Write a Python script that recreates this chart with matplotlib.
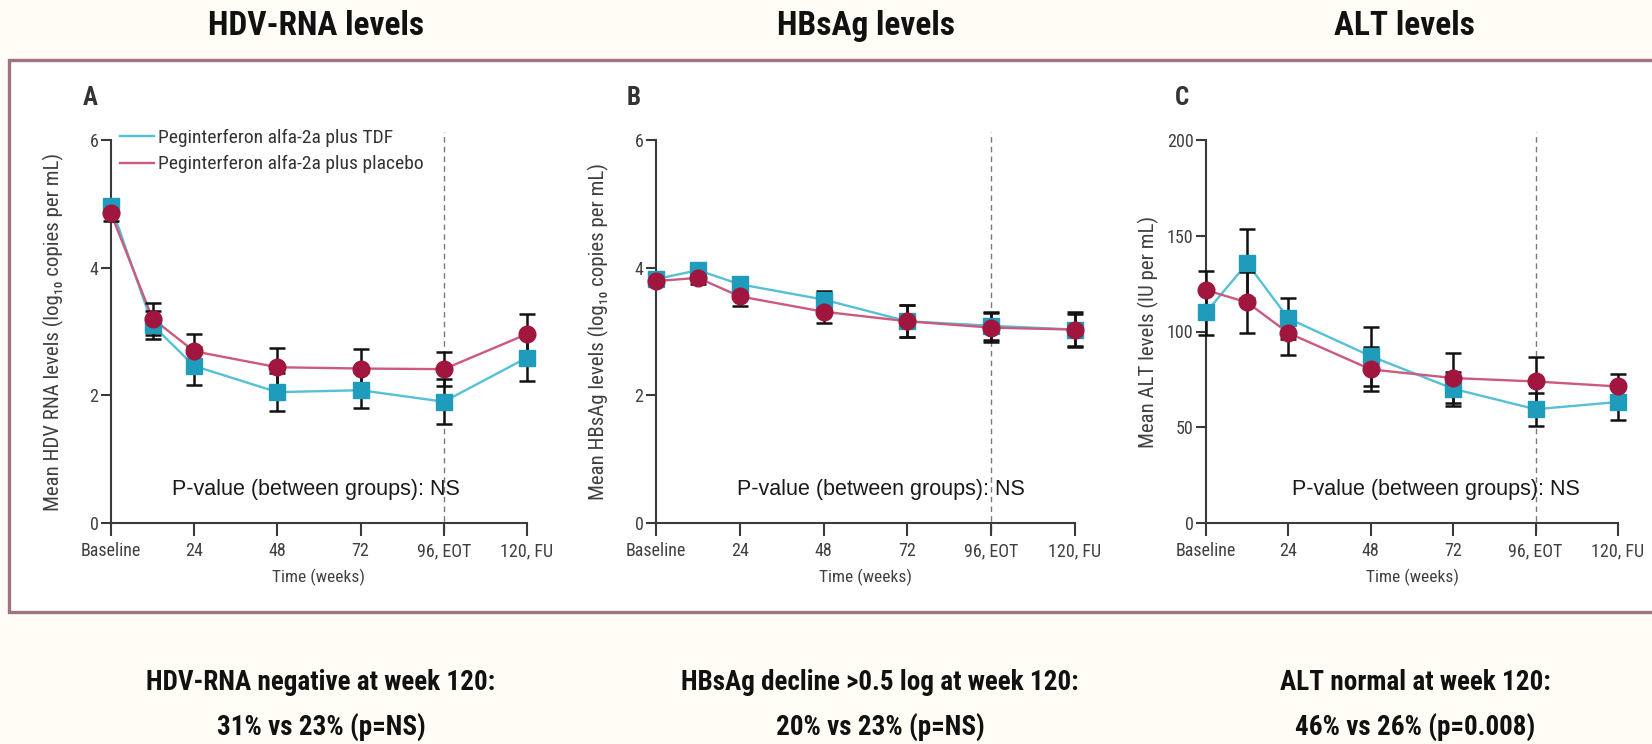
import matplotlib
matplotlib.use("Agg")
import matplotlib.pyplot as plt
from matplotlib import font_manager
from matplotlib.lines import Line2D
from matplotlib.patches import Rectangle

W, H, DPI = 1652, 744, 100

# ---- data -----------------------------------------------------------
weeks = [0, 12, 24, 48, 72, 96, 120]
tick_weeks = [0, 24, 48, 72, 96, 120]
tick_labels = ["Baseline", "24", "48", "72", "96, EOT", "120, FU"]
series_names = ["Peginterferon alfa-2a plus TDF", "Peginterferon alfa-2a plus placebo"]

hdv_tdf = [4.97, 3.10, 2.46, 2.05, 2.08, 1.90, 2.59]
hdv_tdf_err = [0.10, 0.22, 0.30, 0.30, 0.28, 0.35, 0.36]
hdv_pla = [4.85, 3.20, 2.69, 2.44, 2.42, 2.41, 2.96]
hdv_pla_err = [0.12, 0.25, 0.27, 0.30, 0.30, 0.27, 0.31]

hbs_tdf = [3.82, 3.96, 3.74, 3.50, 3.16, 3.09, 3.03]
hbs_tdf_err = [0.05, 0.08, 0.08, 0.14, 0.25, 0.22, 0.25]
hbs_pla = [3.79, 3.84, 3.55, 3.31, 3.16, 3.06, 3.03]
hbs_pla_err = [0.05, 0.10, 0.15, 0.18, 0.25, 0.23, 0.27]

alt_tdf = [110, 135.6, 106.8, 87.1, 70.1, 59.4, 63.2]
alt_tdf_err = [12, 18, 10.5, 15.4, 9, 8.7, 9.5]
alt_pla = [121.6, 115.2, 99.2, 80.2, 75.7, 73.9, 71.3]
alt_pla_err = [10, 16, 11.4, 11.5, 13, 12.7, 6.6]

panel_titles = ["HDV-RNA levels", "HBsAg levels", "ALT levels"]
panel_letters = ["A", "B", "C"]
y_labels = ["Mean HDV RNA levels (log\u2081\u2080 copies per mL)",
            "Mean HBsAg levels (log\u2081\u2080 copies per mL)",
            "Mean ALT levels (IU per mL)"]
y_ticks = [[0, 2, 4, 6], [0, 2, 4, 6], [0, 50, 100, 150, 200]]
y_limits = [(0, 6), (0, 6), (0, 200)]
pvalue_text = "P-value (between groups): NS"
summary_head = ["HDV-RNA negative at week 120:",
                "HBsAg decline >0.5 log at week 120:",
                "ALT normal at week 120:"]
summary_vals = ["31% vs 23% (p=NS)", "20% vs 23% (p=NS)", "46% vs 26% (p=0.008)"]

# ---- styling --------------------------------------------------------
avail = {f.name for f in font_manager.fontManager.ttflist}


def pick(*names):
    for n in names:
        if n in avail:
            return n
    return "DejaVu Sans"


NARROW = pick("Liberation Sans Narrow", "Roboto Condensed", "Open Sans Condensed", "Liberation Sans")
ARIAL = pick("Liberation Sans", "Arimo", "DejaVu Sans")
FAM_N = [NARROW, "DejaVu Sans"]
FAM_A = [ARIAL, "DejaVu Sans"]

C_TDF_LINE = "#55c0d6"
C_TDF_MARK = "#1f9cbc"
C_PLA_LINE = "#cc5a7e"
C_PLA_MARK = "#a0163f"
AXIS_C = "#3a3a3a"
TEXT_C = "#404040"
TICK_FS = 13
LABEL_FS = 15

fig = plt.figure(figsize=(W / DPI, H / DPI), dpi=DPI, facecolor="#fffdf6")


def px(x, y):
    return x / W, 1 - y / H


# outer frame around the three panels
x0, y0 = px(9, 612)
x1, y1 = px(1660, 60)
fig.patches.append(Rectangle((x0, y0), x1 - x0, y1 - y0, transform=fig.transFigure,
                             facecolor="white", edgecolor="#a07383", lw=2.4, zorder=-5))

# axes placement in pixels: (left, right) of x range; y range 523 (bottom) .. 140 (top)
ax_px = [(111, 527), (656, 1075), (1206, 1618)]
AX_TOP, AX_BOT = 140, 523
title_x = [316, 866, 1404]
ylabel_x = [53, 598, 1148]
letter_x = [90, 634, 1182]
pval_x = [316, 881, 1436]
summary_x = [321, 880, 1415]

datasets = [
    (hdv_tdf, hdv_tdf_err, hdv_pla, hdv_pla_err),
    (hbs_tdf, hbs_tdf_err, hbs_pla, hbs_pla_err),
    (alt_tdf, alt_tdf_err, alt_pla, alt_pla_err),
]

for i, (l, r) in enumerate(ax_px):
    left, bottom = px(l, AX_BOT)
    ax = fig.add_axes([left, bottom, (r - l) / W, (AX_BOT - AX_TOP) / H])
    ax.set_zorder(2)
    ax.set_facecolor("none")
    ax.set_xlim(0, 120)
    ax.set_ylim(*y_limits[i])
    for s in ("top", "right"):
        ax.spines[s].set_visible(False)
    for s in ("left", "bottom"):
        ax.spines[s].set_color(AXIS_C)
        ax.spines[s].set_linewidth(1.5)
    ax.set_xticks(tick_weeks)
    ax.set_xticklabels(tick_labels)
    ax.set_yticks(y_ticks[i])
    ax.tick_params(axis="x", length=9, width=1.5, color=AXIS_C, pad=5,
                   labelsize=TICK_FS, labelcolor=TEXT_C)
    ax.tick_params(axis="y", length=7, width=1.5, color=AXIS_C, pad=2,
                   labelsize=TICK_FS, labelcolor=TEXT_C)
    for lab in ax.get_xticklabels() + ax.get_yticklabels():
        lab.set_family(FAM_N)

    tdf, tdf_e, pla, pla_e = datasets[i]
    # end-of-treatment marker
    ax.axvline(96, ymin=-0.02, ymax=1.02, color="#7a7a7a", lw=1.0,
               ls=(0, (4, 3)), clip_on=False, zorder=1)
    ax.errorbar(weeks, tdf, yerr=tdf_e, fmt="none", ecolor="#111111", elinewidth=1.8,
                capsize=6, capthick=1.8, zorder=3, clip_on=False)
    ax.errorbar(weeks, pla, yerr=pla_e, fmt="none", ecolor="#111111", elinewidth=1.8,
                capsize=6, capthick=1.8, zorder=3, clip_on=False)
    ax.plot(weeks, tdf, color=C_TDF_LINE, lw=1.7, zorder=2, clip_on=False)
    ax.plot(weeks, pla, color=C_PLA_LINE, lw=1.7, zorder=2, clip_on=False)
    ax.plot(weeks, tdf, ls="none", marker="s", ms=11, mfc=C_TDF_MARK, mec=C_TDF_MARK,
            zorder=4, clip_on=False)
    ax.plot(weeks, pla, ls="none", marker="o", ms=12, mfc=C_PLA_MARK, mec=C_PLA_MARK,
            zorder=4, clip_on=False)

    ax.text((pval_x[i] - l) / (r - l), (AX_BOT - 490) / (AX_BOT - AX_TOP), pvalue_text,
            transform=ax.transAxes, ha="center", va="center", fontsize=15.5,
            family=FAM_A, color="#1a1a1a")

    ax.set_xlabel("Time (weeks)", family=FAM_N, fontsize=12.5, color=TEXT_C, labelpad=6)

    if i == 0:
        handles = [Line2D([], [], color=C_TDF_LINE, lw=1.7),
                   Line2D([], [], color=C_PLA_LINE, lw=1.7)]
        lx, ly = px(120, 129)
        leg = fig.legend(handles, series_names, loc="upper left", bbox_to_anchor=(lx, ly),
                         frameon=False, handlelength=1.75, handletextpad=0.2,
                         labelspacing=0.42, borderpad=0, borderaxespad=0,
                         prop={"family": FAM_N, "size": 14})
        for t in leg.get_texts():
            t.set_color("#333333")

    fx, fy = px(ylabel_x[i], (AX_BOT + AX_TOP) / 2)
    fig.text(fx, fy, y_labels[i], rotation=90, ha="center", va="center",
             family=FAM_N, fontsize=LABEL_FS, color=TEXT_C)

    fx, fy = px(letter_x[i], 98)
    fig.text(fx, fy, panel_letters[i], ha="center", va="center", family=FAM_N,
             fontsize=18, weight="bold", color="#333333")

    fx, fy = px(title_x[i], 26)
    fig.text(fx, fy, panel_titles[i], ha="center", va="center", family=FAM_N,
             fontsize=24, weight="bold", color="#111111")

    fx, fy = px(summary_x[i], 682)
    fig.text(fx, fy, summary_head[i], ha="center", va="center", family=FAM_N,
             fontsize=19.5, weight="bold", color="#111111")
    fx, fy = px(summary_x[i], 728)
    fig.text(fx, fy, summary_vals[i], ha="center", va="center", family=FAM_N,
             fontsize=19.5, weight="bold", color="#111111")

fig.savefig("out.png", dpi=DPI, facecolor=fig.get_facecolor())
